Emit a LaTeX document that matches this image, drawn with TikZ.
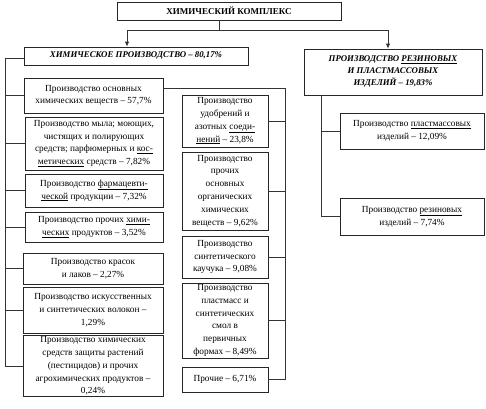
\documentclass[tikz,border=0pt]{standalone}
\usepackage{fontspec}
\setmainfont{Liberation Serif}
\usepackage{tikz}
\usetikzlibrary{arrows.meta, calc, positioning}
\newcommand{\spl}[1]{\underline{#1}}

\begin{document}
\begin{tikzpicture}[
    x=1pt, y=-1pt,
    every node/.style={font=\fontsize{9.3}{12.8}\selectfont},
    box/.style={draw=black!85, line width=0.8pt, align=center, inner sep=1pt},
    headbox/.style={box, font=\fontsize{8.8}{12}\selectfont\bfseries\itshape},
    link/.style={draw=black!80, line width=0.8pt},
    arr/.style={link, -{Latex[length=5pt,width=4.5pt]}},
]
\useasboundingbox (0,0) rectangle (486,408);

% === Top level ===
\node[box, font=\fontsize{9}{11}\selectfont\bfseries, minimum width=224, minimum height=18] (kompl) at (229,11) {ХИМИЧЕСКИЙ КОМПЛЕКС};

% === Two branches ===
\node[headbox, minimum width=224, minimum height=18] (chem) at (136,56) {ХИМИЧЕСКОЕ ПРОИЗВОДСТВО – 80,17\%};
\node[headbox, minimum width=178, minimum height=46] (rubber) at (393,72) {ПРОИЗВОДСТВО \spl{РЕЗИНОВЫХ}\\И ПЛАСТМАССОВЫХ\\ИЗДЕЛИЙ – 19,83\%};

% === Left column ===
\node[box, minimum width=139, minimum height=35] (osn) at (93.5,95.5) {Производство основных\\химических веществ – 57,7\%};
\node[box, minimum width=138, minimum height=53] (mylo) at (94,143.5) {Производство мыла; моющих,\\чистящих и полирующих\\средств; парфюмерных и \spl{кос-}\\\spl{метических} средств – 7,82\%};
\node[box, minimum width=138, minimum height=33] (farm) at (94,190.5) {Производство \spl{фармацевти-}\\\spl{ческой} продукции – 7,32\%};
\node[box, minimum width=138, minimum height=30] (prochhim) at (94,227) {Производство прочих \spl{хими-}\\\spl{ческих} продуктов – 3,52\%};
\node[box, minimum width=140, minimum height=31] (kraski) at (93,268.5) {Производство красок\\и лаков – 2,27\%};
\node[box, minimum width=140, minimum height=46] (volokna) at (93,310) {Производство искусственных\\и синтетических волокон –\\1,29\%};
\node[box, minimum width=140, minimum height=58] (pestic) at (93,366) {Производство химических\\средств защиты растений\\(пестицидов) и прочих\\агрохимических продуктов –\\0,24\%};

% === Middle column ===
\node[box, minimum width=86, minimum height=52] (udobr) at (225,121) {Производство\\удобрений и\\азотных \spl{соеди-}\\\spl{нений} – 23,8\%};
\node[box, minimum width=86, minimum height=78] (organ) at (225,191) {Производство\\прочих\\основных\\органических\\химических\\веществ – 9,62\%};
\node[box, minimum width=86, minimum height=42] (kauchuk) at (225,257) {Производство\\синтетического\\каучука – 9,08\%};
\node[box, minimum width=86, minimum height=75] (plastmass) at (225,320.5) {Производство\\пластмасс и\\синтетических\\смол в\\первичных\\формах – 8,49\%};
\node[box, minimum width=86, minimum height=25] (prochie) at (225,379.5) {Прочие – 6,71\%};

% === Right column ===
\node[box, minimum width=144, minimum height=36] (plizd) at (412,131) {Производство \spl{пластмассовых}\\изделий – 12,09\%};
\node[box, minimum width=144, minimum height=37] (rezizd) at (412,216.5) {Производство \spl{резиновых}\\изделий – 7,74\%};

% === Connectors ===
\coordinate (topjoin) at (219,30);
\coordinate (busL) at (127,30);
\coordinate (busR) at (388,30);
\draw[link] (topjoin |- kompl.south) -- (topjoin);
\draw[link] (busL) -- (busR);
\draw[arr] (busL) -- (busL |- chem.north);
\draw[arr] (busR) -- (busR |- rubber.north);

% left bus
\coordinate (lbus) at (5,58);
\draw[link] (chem.west |- lbus) -- (lbus) -- (lbus |- pestic.west);
\foreach \b in {osn, mylo, farm, prochhim, kraski, volokna, pestic}
    \draw[link] (\b.west) -- (\b.west -| lbus);

% middle bus
\coordinate (mbus) at (285,88);
\draw[link] (osn.east |- mbus) -- (mbus) -- (mbus |- prochie.east) -- (prochie.east);
\foreach \b in {udobr, organ, kauchuk, plastmass}
    \draw[link] (\b.east) -- (\b.east -| mbus);

% right bus
\coordinate (rbus) at (321,95);
\draw[link] (rbus |- rubber.south) -- (rbus |- rezizd.west) -- (rezizd.west);
\draw[link] (plizd.west) -- (plizd.west -| rbus);

\end{tikzpicture}
\end{document}
